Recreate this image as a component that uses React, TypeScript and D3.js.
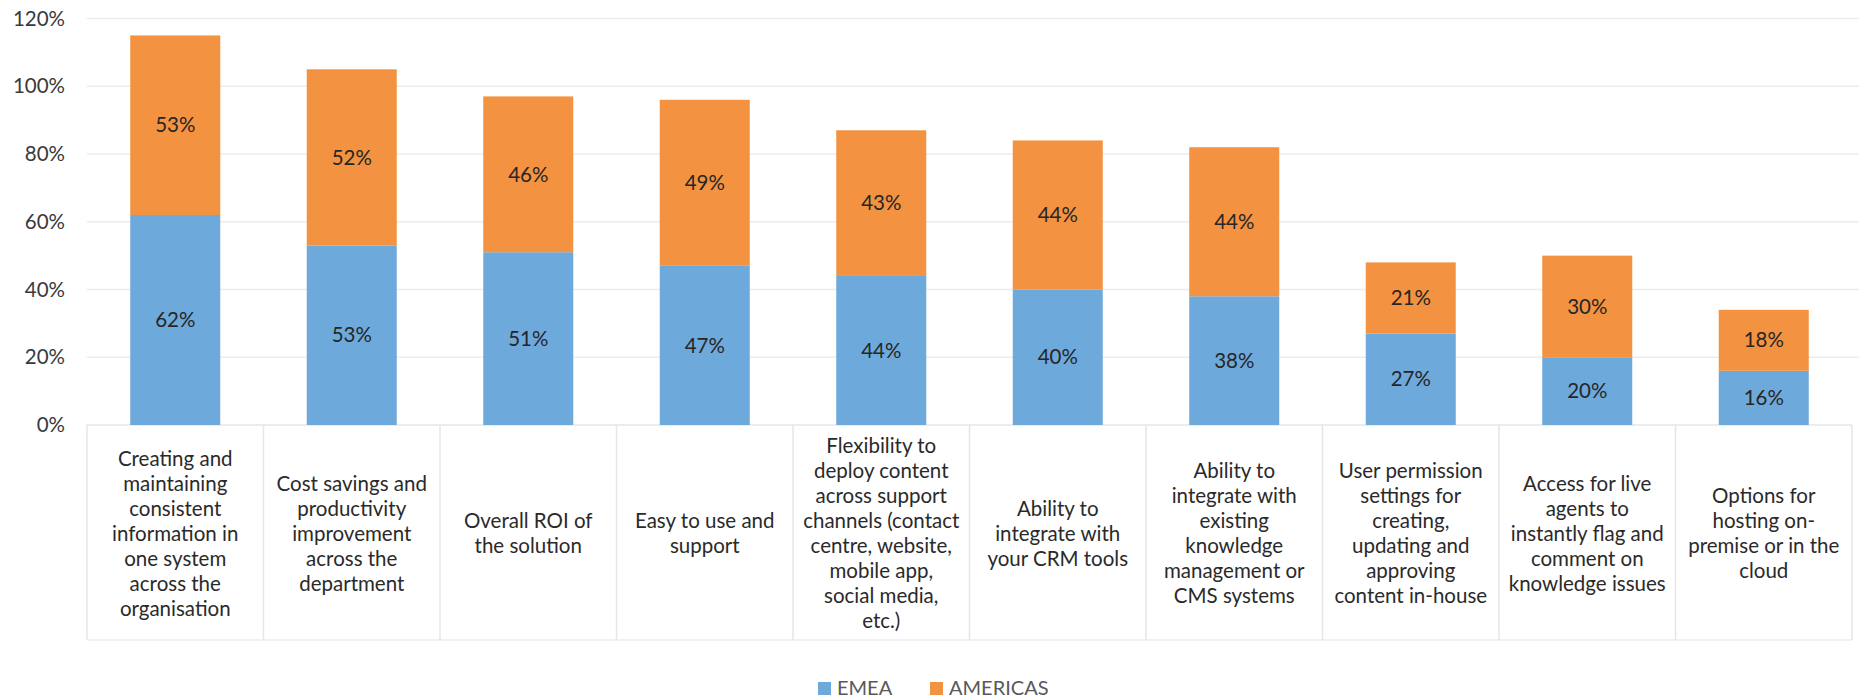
import React from "react";
import * as d3 from "d3";

const categories: string[][] = [
  ["Creating and", "maintaining", "consistent", "information in", "one system", "across the", "organisation"],
  ["Cost savings and", "productivity", "improvement", "across the", "department"],
  ["Overall ROI of", "the solution"],
  ["Easy to use and", "support"],
  ["Flexibility to", "deploy content", "across support", "channels (contact", "centre, website,", "mobile app,", "social media,", "etc.)"],
  ["Ability to", "integrate with", "your CRM tools"],
  ["Ability to", "integrate with", "existing", "knowledge", "management or", "CMS systems"],
  ["User permission", "settings for", "creating,", "updating and", "approving", "content in-house"],
  ["Access for live", "agents to", "instantly flag and", "comment on", "knowledge issues"],
  ["Options for", "hosting on-", "premise or in the", "cloud"],
];
const emea = [62, 53, 51, 47, 44, 40, 38, 27, 20, 16];
const americas = [53, 52, 46, 49, 43, 44, 44, 21, 30, 18];
const yTicks = [0, 20, 40, 60, 80, 100, 120];
const seriesNames = ["EMEA", "AMERICAS"];
const colors = ["#6EA9DB", "#F39240"];

const W = 1859;
const H = 698;
const left = 87;
const right = 1852;
const top = 18.5;
const bottom = 425;
const tableBottom = 640;
const FONT = "Lato, 'Noto Sans', sans-serif";

export default function App() {
  const idx = categories.map((_, i) => String(i));
  const x = d3.scaleBand<string>().domain(idx).range([left, right]).paddingInner(0.49).paddingOuter(0.245);
  const xCell = d3.scaleBand<string>().domain(idx).range([left, right]).padding(0);
  const y = d3.scaleLinear().domain([0, 120]).range([bottom, top]);

  const rows = categories.map((_, i) => ({ i: String(i), EMEA: emea[i], AMERICAS: americas[i] }));
  const stacked = d3.stack<any>().keys(seriesNames)(rows);

  const lineH = 25;
  const cellMid = (bottom + tableBottom) / 2 + 1;

  return (
    <div style={{ position: "absolute", left: 0, top: 0 }}>
      <svg width={W} height={H} style={{ display: "block", background: "#fff" }} fontFamily={FONT}>
        {yTicks.map((t) => (
          <g key={t}>
            {t > 0 && (
              <line x1={left} x2={right + 7} y1={y(t)} y2={y(t)} stroke="#ececec" strokeWidth={1.5} />
            )}
            <text x={65} y={y(t)} dy="0.35em" textAnchor="end" fontSize={20.5} fill="#3a3a3a">
              {t}%
            </text>
          </g>
        ))}
        {/* category table */}
        <line x1={left} x2={right} y1={bottom} y2={bottom} stroke="#e6e6e6" strokeWidth={1.5} />
        <line x1={left} x2={right} y1={tableBottom} y2={tableBottom} stroke="#ededed" strokeWidth={1.5} />
        {idx.map((k) => (
          <line key={"v" + k} x1={xCell(k)!} x2={xCell(k)!} y1={bottom} y2={tableBottom} stroke="#e6e6e6" strokeWidth={1.5} />
        ))}
        <line x1={right} x2={right} y1={bottom} y2={tableBottom} stroke="#e6e6e6" strokeWidth={1.5} />
        {stacked.map((s, si) => (
          <g key={s.key}>
            {s.map((d, i) => (
              <g key={i}>
                <rect
                  x={x(String(i))!}
                  width={x.bandwidth()}
                  y={y(d[1])}
                  height={y(d[0]) - y(d[1])}
                  fill={colors[si]}
                />
                <text
                  x={x(String(i))! + x.bandwidth() / 2}
                  y={(y(d[0]) + y(d[1])) / 2}
                  dy="0.35em"
                  textAnchor="middle"
                  fontSize={20.5}
                  fill="#262626"
                >
                  {d[1] - d[0]}%
                </text>
              </g>
            ))}
          </g>
        ))}
        {categories.map((lines, i) => {
          const cx = xCell(String(i))! + xCell.bandwidth() / 2;
          const start = cellMid - ((lines.length - 1) * lineH) / 2;
          return (
            <text key={"c" + i} textAnchor="middle" fontSize={20.5} fill="#2a2a2a">
              {lines.map((l, j) => (
                <tspan key={j} x={cx} y={start + j * lineH} dy="0.35em">
                  {l}
                </tspan>
              ))}
            </text>
          );
        })}
        {/* legend */}
        {seriesNames.map((n, i) => {
          const lx = [818, 930][i];
          return (
            <g key={n}>
              <rect x={lx} y={682} width={13} height={13} fill={colors[i]} />
              <text x={lx + 19} y={695} fontSize={20} fill="#595959">
                {n}
              </text>
            </g>
          );
        })}
      </svg>
    </div>
  );
}
